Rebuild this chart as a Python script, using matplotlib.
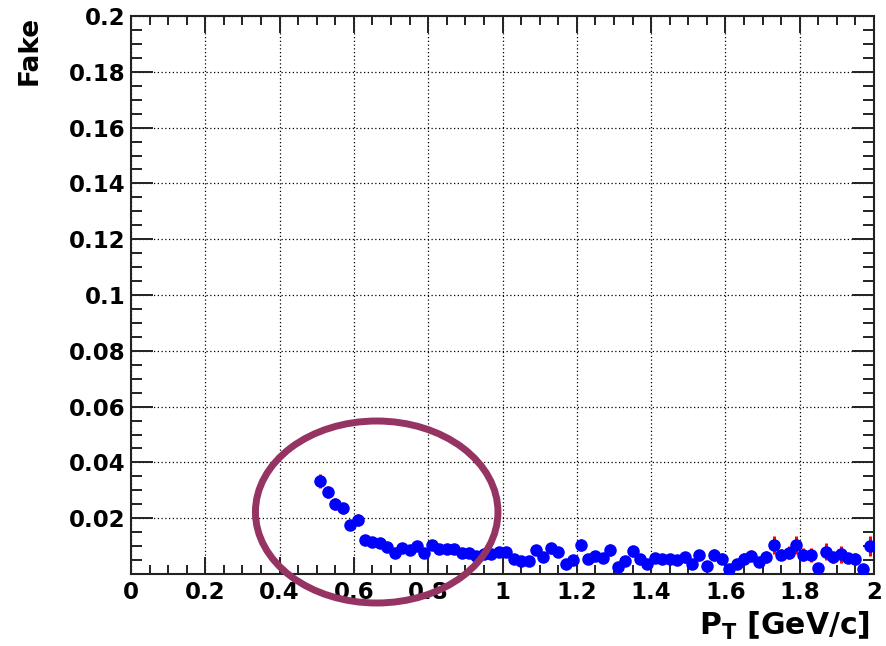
import matplotlib
matplotlib.use("Agg")
import matplotlib.pyplot as plt
from matplotlib.patches import Ellipse
from matplotlib.ticker import MultipleLocator, FixedLocator
import numpy as np

# ---- data ----
pt_centers = [0.51, 0.53, 0.55, 0.57, 0.59, 0.61, 0.63, 0.65, 0.67, 0.69,
              0.71, 0.73, 0.75, 0.77, 0.79, 0.81, 0.83, 0.85, 0.87, 0.89,
              0.91, 0.93, 0.95, 0.97, 0.99, 1.01, 1.03, 1.05, 1.07, 1.09,
              1.11, 1.13, 1.15, 1.17, 1.19, 1.21, 1.23, 1.25, 1.27, 1.29,
              1.31, 1.33, 1.35, 1.37, 1.39, 1.41, 1.43, 1.45, 1.47, 1.49,
              1.51, 1.53, 1.55, 1.57, 1.59, 1.61, 1.63, 1.65, 1.67, 1.69,
              1.71, 1.73, 1.75, 1.77, 1.79, 1.81, 1.83, 1.85, 1.87, 1.89,
              1.91, 1.93, 1.95, 1.97, 1.99]
fake_rate = [0.0333, 0.0295, 0.0250, 0.0235, 0.0176, 0.0194, 0.0121, 0.0114, 0.0110, 0.0097,
             0.0074, 0.0093, 0.0087, 0.0100, 0.0074, 0.0104, 0.0090, 0.0090, 0.0090, 0.0077,
             0.0076, 0.0065, 0.0072, 0.0073, 0.0080, 0.0080, 0.0053, 0.0048, 0.0046, 0.0086,
             0.0061, 0.0092, 0.0080, 0.0037, 0.0049, 0.0104, 0.0053, 0.0065, 0.0056, 0.0087,
             0.0026, 0.0048, 0.0081, 0.0052, 0.0037, 0.0058, 0.0053, 0.0055, 0.0049, 0.0060,
             0.0036, 0.0067, 0.0030, 0.0069, 0.0055, 0.0018, 0.0035, 0.0055, 0.0066, 0.0043,
             0.0060, 0.0104, 0.0069, 0.0077, 0.0104, 0.0069, 0.0068, 0.0022, 0.0080, 0.0060,
             0.0071, 0.0058, 0.0053, 0.0017, 0.0099]
fake_err = [0.0025, 0.0022, 0.0021, 0.0021, 0.0015, 0.0022, 0.0013, 0.0013, 0.0013, 0.0012,
            0.0011, 0.0012, 0.0012, 0.0013, 0.0011, 0.0013, 0.0013, 0.0013, 0.0013, 0.0013,
            0.0013, 0.0012, 0.0013, 0.0013, 0.0014, 0.0014, 0.0012, 0.0012, 0.0012, 0.0017,
            0.0015, 0.0020, 0.0017, 0.0012, 0.0014, 0.0022, 0.0015, 0.0017, 0.0016, 0.0021,
            0.0012, 0.0016, 0.0021, 0.0016, 0.0014, 0.0018, 0.0017, 0.0017, 0.0016, 0.0019,
            0.0015, 0.0020, 0.0014, 0.0021, 0.0019, 0.0011, 0.0016, 0.0019, 0.0020, 0.0017,
            0.0021, 0.0032, 0.0020, 0.0023, 0.0032, 0.0024, 0.0024, 0.0013, 0.0030, 0.0020,
            0.0031, 0.0017, 0.0021, 0.0012, 0.0036]

x_ticks = [0, 0.2, 0.4, 0.6, 0.8, 1.0, 1.2, 1.4, 1.6, 1.8, 2.0]
x_tick_labels = ["0", "0.2", "0.4", "0.6", "0.8", "1", "1.2", "1.4", "1.6", "1.8", "2"]
y_ticks = [0, 0.02, 0.04, 0.06, 0.08, 0.1, 0.12, 0.14, 0.16, 0.18, 0.2]
y_tick_labels = ["", "0.02", "0.04", "0.06", "0.08", "0.1", "0.12", "0.14", "0.16", "0.18", "0.2"]

W, H = 886, 646
fig = plt.figure(figsize=(W / 100, H / 100), dpi=100)
fig.patch.set_facecolor("white")

left, right, bottom, top = 131, 874, 574, 16
ax = fig.add_axes([left / W, 1 - bottom / H, (right - left) / W, (bottom - top) / H])

ax.set_xlim(0, 2)
ax.set_ylim(0, 0.2)

ax.errorbar(pt_centers, fake_rate, yerr=fake_err, fmt="none", ecolor="#ff0000",
            elinewidth=2.2, capsize=0, zorder=3)
ax.plot(pt_centers, fake_rate, linestyle="none", marker="o", markersize=8,
        markerfacecolor="#0000ff", markeredgecolor="#0000ff", zorder=4)

ax.xaxis.set_major_locator(FixedLocator(x_ticks))
ax.set_xticklabels(x_tick_labels)
ax.yaxis.set_major_locator(FixedLocator(y_ticks))
ax.set_yticklabels(y_tick_labels)
ax.xaxis.set_minor_locator(MultipleLocator(0.05))
ax.yaxis.set_minor_locator(MultipleLocator(0.005))

ax.grid(True, which="major", color="black", linestyle=(0, (1, 2)), linewidth=0.9)
ax.set_axisbelow(True)

for sp in ax.spines.values():
    sp.set_linewidth(1.5)
    sp.set_color("#222222")

ax.tick_params(axis="x", which="major", direction="in", length=12.5, width=1.4,
               top=True, bottom=True, pad=5, colors="#222222", labelcolor="black")
ax.tick_params(axis="x", which="minor", direction="in", length=6.5, width=1.4,
               top=True, bottom=True, colors="#222222")
ax.tick_params(axis="y", which="major", direction="in", length=16, width=1.4,
               left=True, right=True, pad=4, colors="#222222", labelcolor="black")
ax.tick_params(axis="y", which="minor", direction="in", length=8, width=1.4,
               left=True, right=True, colors="#222222")

for lab in ax.get_xticklabels() + ax.get_yticklabels():
    lab.set_fontfamily("DejaVu Sans")
    lab.set_fontweight("bold")
    lab.set_fontsize(16.5)

# axis titles
fig.text(30 / W, 1 - 16 / H, "Fake", rotation=90, ha="center", va="top",
         fontsize=19, fontweight="bold", family="DejaVu Sans")
plt.rcParams["mathtext.default"] = "bf"
fig.text(870 / W, 1 - 635 / H, r"P$_{\mathbf{T}}$ [GeV/c]", ha="right", va="baseline",
         fontsize=21.5, fontweight="bold", family="DejaVu Sans")

# highlight ellipse
ell = Ellipse((376.7 / W, 1 - 512 / H), 242.5 / W, 182 / H, transform=fig.transFigure,
              fill=False, edgecolor="#953462", linewidth=5.0, zorder=10, clip_on=False)
fig.patches.append(ell)

fig.savefig("out.png", dpi=100)
